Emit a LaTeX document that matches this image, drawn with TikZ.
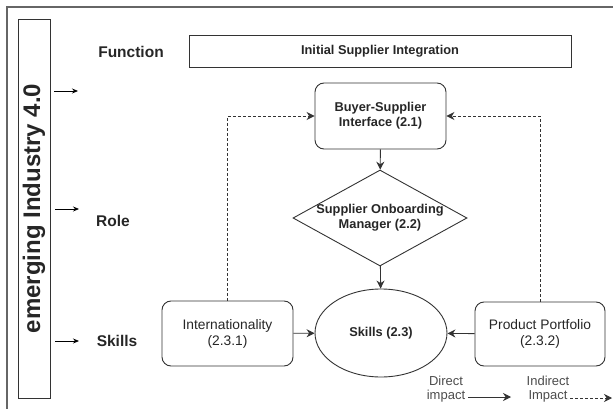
\documentclass[tikz,border=0pt]{standalone}
\usepackage{fontspec}
\setmainfont{Liberation Sans}
\usetikzlibrary{arrows.meta,shapes.geometric}

\begin{document}
\begin{tikzpicture}[x=1pt,y=-1pt,>={Stealth[length=8pt,width=8pt]},every node/.style={font=\bfseries\fontsize{12.8}{15}\selectfont,align=center,text=black!85}]
	\tikzset{
		rbox/.style={draw=black!80,line width=0.9pt,rounded corners=9pt,minimum width=131pt,minimum height=65pt},
		plain/.style={font=\fontsize{13.8}{16}\selectfont},
		lvl/.style={font=\bfseries\fontsize{15.5}{18}\selectfont},
		conn/.style={draw=black!80,line width=0.9pt,->},
		dconn/.style={conn,dash pattern=on 3pt off 2pt}
	}
	\useasboundingbox (0,0) rectangle (613,409);
	
	% outer frame
	\draw[black!60,line width=1.5pt](613,7)--(7,7)--(7,409);
	
	% left column
	\node (ind) [draw=black!80,line width=0.9pt,rotate=90,minimum width=379pt,minimum height=32pt,inner sep=0pt,font=\bfseries\fontsize{24}{28}\selectfont] at (34,208.5) {emerging Industry 4.0};
	\coordinate (f0) at (54,91);  \coordinate (f1) at (78,91);
	\coordinate (r0) at (55,209); \coordinate (r1) at (79,209);
	\coordinate (s0) at (55,341); \coordinate (s1) at (79,341);
	\draw[->,line width=0.8pt,>={Stealth[length=6pt,width=5pt]}](f0)--(f1);
	\draw[->,line width=0.8pt,>={Stealth[length=6pt,width=5pt]}](r0)--(r1);
	\draw[->,line width=0.8pt,>={Stealth[length=6pt,width=5pt]}](s0)--(s1);
	
	\node (fun) [lvl] at (131,52) {Function};
	\node (rol) [lvl] at (113,221) {Role};
	\node (skl) [lvl] at (117,341) {Skills};
	
	% main boxes
	\node (isi) [draw=black!80,line width=0.9pt,minimum width=382pt,minimum height=32pt] at (380,51) {Initial Supplier Integration};
	\node (bsi) [rbox,minimum height=66pt] at (380.5,116) {Buyer-Supplier\\Interface (2.1)};
	\node (som) [diamond,draw=black!80,line width=0.9pt,minimum width=174pt,minimum height=96pt,inner sep=0pt] at (380,218) {};
	\node (somt) at (som) {Supplier Onboarding\\Manager (2.2)};
	\node (sk) [ellipse,draw=black!80,line width=0.9pt,minimum width=132pt,minimum height=88pt] at (381,333) {Skills (2.3)};
	\node (intl) [rbox,plain] at (227.5,333.5) {Internationality\\(2.3.1)};
	\node (pp) [rbox,plain,minimum width=130pt,minimum height=64pt] at (540,334) {Product Portfolio\\(2.3.2)};
	
	% connectors
	\draw[conn](bsi)--(som);
	\draw[conn](som)--(sk);
	\draw[conn](intl)--(sk);
	\draw[conn](pp)--(sk);
	\draw[dconn](intl.north)|-(bsi.west);
	\draw[dconn](pp.north)|-(bsi.east);
	
	% legend
	\node (dir) [font=\fontsize{13}{14}\selectfont,text=black!70] at (446,389) {Direct\\impact};
	\node (indr) [font=\fontsize{13}{14}\selectfont,text=black!70] at (548,389) {Indirect\\Impact};
	\coordinate (d0) at (468,397); \coordinate (d1) at (511,397);
	\coordinate (i0) at (570,398); \coordinate (i1) at (612,398);
	\draw[conn](d0)--(d1);
	\draw[dconn](i0)--(i1);
\end{tikzpicture}
\end{document}
